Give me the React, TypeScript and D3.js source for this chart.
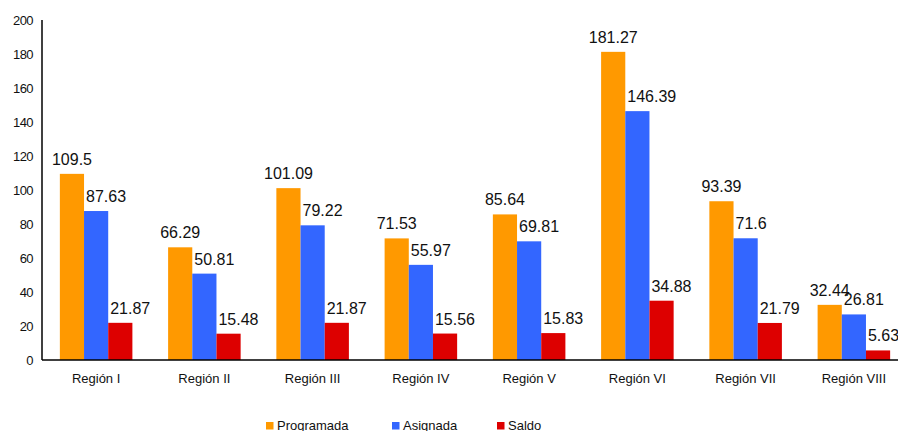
import React from "react";
import * as d3 from "d3";

const regions = ["Región I", "Región II", "Región III", "Región IV", "Región V", "Región VI", "Región VII", "Región VIII"];
const programada = [109.5, 66.29, 101.09, 71.53, 85.64, 181.27, 93.39, 32.44];
const asignada = [87.63, 50.81, 79.22, 55.97, 69.81, 146.39, 71.6, 26.81];
const saldo = [21.87, 15.48, 21.87, 15.56, 15.83, 34.88, 21.79, 5.63];
const yTicks = [0, 20, 40, 60, 80, 100, 120, 140, 160, 180, 200];

const seriesNames = ["Programada", "Asignada", "Saldo"];
const colors = ["#FF9900", "#3366FF", "#DD0000"];

const W = 898;
const H = 431;
const font = "Arial, 'Liberation Sans', sans-serif";

const App: React.FC = () => {
	const series = [programada, asignada, saldo];

	const x = d3.scaleBand<string>().domain(regions).range([42, 908]).paddingInner(0.33).paddingOuter(0.165);
	const xs = d3.scaleBand<number>().domain([0, 1, 2]).range([0, x.bandwidth()]);
	const y = d3.scaleLinear().domain([0, 200]).range([360, 20]);

	const legendX = [266, 392, 497];

	return (
		<svg width={W} height={H} style={{position: "absolute", left: 0, top: 0}} fontFamily={font}>
			<rect width={W} height={H} fill="#fff" />
			{/* y tick labels */}
			{yTicks.map((t) => (
				<text key={t} x={33} y={y(t)} dy="0.35em" textAnchor="end" fontSize={13} letterSpacing={-0.6} fill="#111">
					{t}
				</text>
			))}
			{/* bars */}
			{regions.map((r, i) => (
				<g key={r} transform={`translate(${x(r)},0)`}>
					{series.map((s, k) => (
						<rect key={k} x={xs(k)} y={y(s[i])} width={xs.bandwidth()} height={y(0) - y(s[i])} fill={colors[k]} />
					))}
					{series.map((s, k) => {
						const bx = xs(k) || 0;
						const centered = k === 0;
						return (
							<text
								key={"l" + k}
								x={centered ? bx + xs.bandwidth() / 2 : bx + 2}
								y={y(s[i]) - 9}
								textAnchor={centered ? "middle" : "start"}
								fontSize={16}
								fill="#111"
							>
								{s[i]}
							</text>
						);
					})}
					<text x={x.bandwidth() / 2} y={383} textAnchor="middle" fontSize={13} fill="#111">
						{r}
					</text>
				</g>
			))}
			{/* axes */}
			<line x1={42} x2={42} y1={20} y2={360} stroke="#000" strokeWidth={1.5} />
			<line x1={42} x2={W} y1={360} y2={360} stroke="#000" strokeWidth={1.5} />
			{/* legend */}
			{seriesNames.map((n, k) => (
				<g key={n}>
					<rect x={legendX[k]} y={422} width={7.5} height={7.5} fill={colors[k]} />
					<text x={legendX[k] + 11} y={430} fontSize={13} fill="#111">
						{n}
					</text>
				</g>
			))}
		</svg>
	);
};

export default App;
